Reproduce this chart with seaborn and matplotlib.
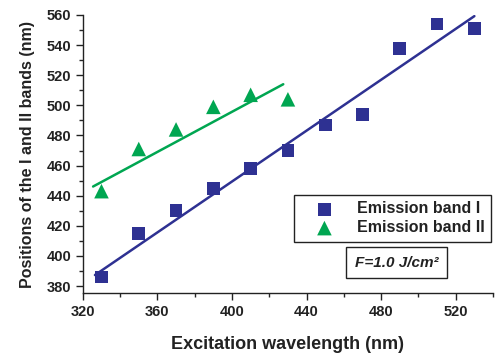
import numpy as np
import pandas as pd
import seaborn as sns
import matplotlib.pyplot as plt
from matplotlib.ticker import MultipleLocator

# excitation wavelength (nm) and band positions (nm)
exc_I = [330, 350, 370, 390, 410, 430, 450, 470, 490, 510, 530]
band_I = [386, 415, 430, 445, 458, 470, 487, 494, 538, 554, 551]
exc_II = [330, 350, 370, 390, 410, 430]
band_II = [443, 471, 484, 499, 507, 504]

# linear fits as drawn in the figure: slope, intercept, x range
fit_I = (0.845, 111.4)
fit_I_range = [326.5, 530]
fit_II = (0.666, 229.3)
fit_II_range = [325.5, 427.5]

BLUE = "#2e3192"
GREEN = "#00a651"

sns.set_theme(style="ticks")
plt.rcParams['font.family'] = ['Liberation Sans', 'DejaVu Sans']

df_I = pd.DataFrame({"x": exc_I, "y": band_I})
df_II = pd.DataFrame({"x": exc_II, "y": band_II})

fx_I = np.array(fit_I_range)
fx_II = np.array(fit_II_range)

fig = plt.figure(figsize=(4.96, 3.57), dpi=100)
ax = fig.add_axes([0.167, 0.179, 0.827, 0.779])

sns.lineplot(x=fx_I, y=fit_I[0] * fx_I + fit_I[1], ax=ax, color=BLUE, lw=1.8)
sns.lineplot(x=fx_II, y=fit_II[0] * fx_II + fit_II[1], ax=ax, color=GREEN, lw=1.8)
sns.scatterplot(data=df_I, x="x", y="y", ax=ax, marker="s", s=85,
                color=BLUE, edgecolor="none", label="Emission band I", zorder=3)
sns.scatterplot(data=df_II, x="x", y="y", ax=ax, marker="^", s=110,
                color=GREEN, edgecolor="none", label="Emission band II", zorder=3)

ax.set_xlim(320, 540)
ax.set_ylim(375.3, 560)
ax.xaxis.set_major_locator(MultipleLocator(40))
ax.xaxis.set_minor_locator(MultipleLocator(20))
ax.yaxis.set_major_locator(MultipleLocator(20))
ax.yaxis.set_minor_locator(MultipleLocator(10))
ax.tick_params(which="major", direction="out", length=5, width=1, labelsize=10.5, colors="#222222")
ax.tick_params(which="minor", direction="out", length=3, width=1)
for lab in ax.get_xticklabels() + ax.get_yticklabels():
    lab.set_fontweight("bold")
for s in ["left", "bottom"]:
    ax.spines[s].set_color("#222222")
    ax.spines[s].set_linewidth(1)
sns.despine(ax=ax)

ax.set_xlabel("Excitation wavelength (nm)", fontsize=13, fontweight="bold",
              color="#222222", labelpad=12)
ax.set_ylabel("Positions of the I and II bands (nm)", fontsize=11.5,
              fontweight="bold", color="#222222", labelpad=8)

leg = ax.legend(loc="upper left", bbox_to_anchor=(0.515, 0.353),
                prop={"weight": "bold", "size": 11.5}, frameon=True, fancybox=False,
                edgecolor="#222222", framealpha=1, borderpad=0.4,
                handletextpad=0.55, labelspacing=0.25, borderaxespad=0,
                handlelength=3.0)
leg.get_frame().set_linewidth(1)
for t in leg.get_texts():
    t.set_color("#222222")

ax.text(0.663, 0.11, "F=1.0 J/cm\u00b2", transform=ax.transAxes,
        fontsize=11, fontweight="bold", fontstyle="italic", va="center",
        color="#222222",
        bbox=dict(boxstyle="square,pad=0.55", fc="white", ec="#222222", lw=1))

fig.savefig("out.png", dpi=100)
